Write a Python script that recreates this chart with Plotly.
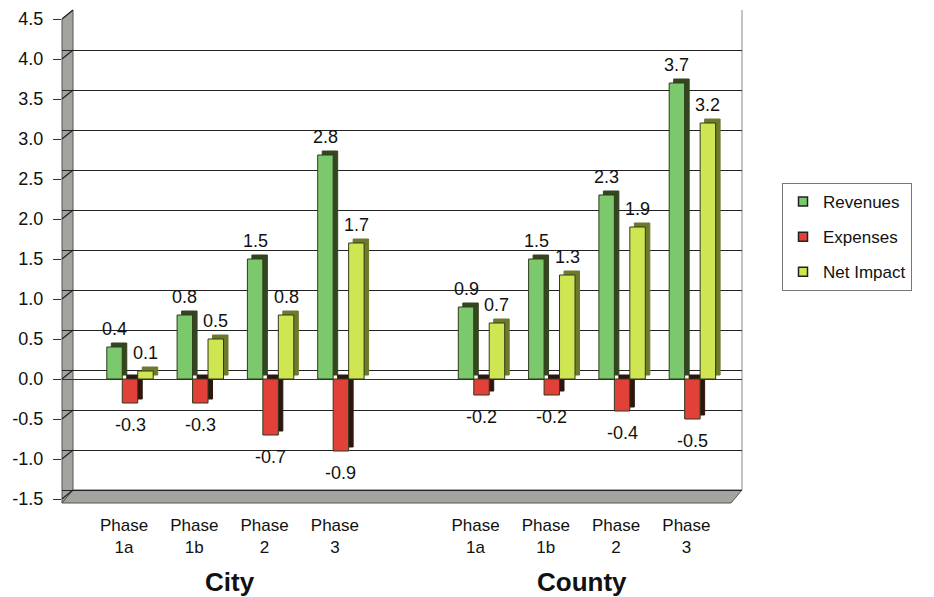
import plotly.graph_objects as go

# ---- data ----
categories = [0, 1, 2, 3, 5, 6, 7, 8]
phase_labels = ["Phase<br>1a", "Phase<br>1b", "Phase<br>2", "Phase<br>3",
                "Phase<br>1a", "Phase<br>1b", "Phase<br>2", "Phase<br>3"]
group_names = ["City", "County"]
group_centers = [1.5, 6.5]
revenues = [0.4, 0.8, 1.5, 2.8, 0.9, 1.5, 2.3, 3.7]
expenses = [-0.3, -0.3, -0.7, -0.9, -0.2, -0.2, -0.4, -0.5]
net_impact = [0.1, 0.5, 0.8, 1.7, 0.7, 1.3, 1.9, 3.2]
y_ticks = [-1.5, -1.0, -0.5, 0.0, 0.5, 1.0, 1.5, 2.0, 2.5, 3.0, 3.5, 4.0, 4.5]

# ---- geometry (pixels) ----
W, H = 934, 597
L, R, T, B = 62, 742, 10, 503
PXU = 70.3          # px per category
X0 = 130            # pixel of category 0
YPU = 80            # px per y unit
Y0_FRONT = 379      # pixel of 0 on front (bars/labels)
Y0_BACK = 370       # pixel of 0 on back wall (grid)
DEPTH_X = 11

xr = [-(X0 - L) / PXU, 8 + (R - (X0 + 8 * PXU)) / PXU]
y1r = [-(B - Y0_FRONT) / YPU, (Y0_FRONT - T) / YPU]
y2r = [-(B - Y0_BACK) / YPU, (Y0_BACK - T) / YPU + 0.0005]

def px(xp):
    return (xp - L) / (R - L)

def py(yp):
    return (B - yp) / (B - T)

FONT = "Liberation Sans, Arial, sans-serif"

series = [
    ("Revenues", revenues, "#7cc86c", "#33461f", -0.33),
    ("Expenses", expenses, "#e2413a", "#2e1610", -0.11),
    ("Net Impact", net_impact, "#cfe652", "#6d7a2c", 0.11),
]
BW = 0.22
sdx = 4.5 / PXU
sdy = 4 / YPU

fig = go.Figure()
# depth "shadow" bars
for name, vals, col, dark, off in series:
    fig.add_trace(go.Bar(
        x=categories, y=vals, base=[sdy] * len(vals), offset=off + sdx, width=BW,
        marker=dict(color=dark, line=dict(color=dark, width=1)),
        showlegend=False, hoverinfo="skip", yaxis="y"))
# front bars
for name, vals, col, dark, off in series:
    fig.add_trace(go.Bar(
        x=categories, y=vals, offset=off, width=BW, name=name,
        showlegend=False,
        marker=dict(color=col, line=dict(color="#2f3a1c", width=1)),
        yaxis="y"))
# legend entries (small square keys)
for name, vals, col, dark, off in series:
    fig.add_trace(go.Scatter(
        x=[None], y=[None], mode="markers", name=name, legendgroup=name,
        marker=dict(symbol="square", size=9, color=col, line=dict(color="#222", width=1.5)),
        yaxis="y"))

# grid-only overlay axis (back wall)
fig.add_trace(go.Scatter(x=[None], y=[None], yaxis="y2", showlegend=False, hoverinfo="skip"))

# data labels
annotations = []
for name, vals, col, dark, off in series:
    for c, v in zip(categories, vals):
        annotations.append(dict(
            x=c + off + BW / 2, y=v, xref="x", yref="y",
            text=f"{v:.1f}", showarrow=False,
            yanchor="bottom" if v >= 0 else "top",
            yshift=6 if v >= 0 else -10,
            font=dict(family=FONT, size=18, color="#111")))
for g, gc in zip(group_names, group_centers):
    annotations.append(dict(
        x=gc, y=py(582), xref="x", yref="paper", text=f"<b>{g}</b>",
        showarrow=False, xshift=-5, yanchor="middle",
        font=dict(family=FONT, size=26, color="#111")))

# 3D wall & floor shapes
shapes = []
wall_gray = "#a3a4a0"
shapes.append(dict(
    type="path", xref="paper", yref="paper", layer="between",
    path=f"M {px(L)} {py(Y0_FRONT - 4.5*YPU)} L {px(L+DEPTH_X)} {py(T)} "
         f"L {px(L+DEPTH_X)} {py(Y0_BACK + 1.5*YPU)} L {px(L)} {py(B)} Z",
    fillcolor=wall_gray, line=dict(color="#555", width=1)))
shapes.append(dict(
    type="path", xref="paper", yref="paper", layer="between",
    path=f"M {px(L)} {py(B)} L {px(L+DEPTH_X)} {py(Y0_BACK + 1.5*YPU)} "
         f"L {px(R)} {py(Y0_BACK + 1.5*YPU)} L {px(R-DEPTH_X)} {py(B)} Z",
    fillcolor=wall_gray, line=dict(color="#555", width=1)))
for v in y_ticks:
    shapes.append(dict(
        type="line", xref="paper", yref="paper", layer="between",
        x0=px(L), y0=py(Y0_FRONT - v * YPU), x1=px(L + DEPTH_X), y1=py(Y0_BACK - v * YPU),
        line=dict(color="#222", width=1.2)))
shapes.append(dict(type="line", xref="paper", yref="paper", layer="between",
                   x0=px(R), x1=px(R), y0=py(T), y1=py(Y0_BACK + 1.5*YPU),
                   line=dict(color="#888", width=1)))

fig.update_layout(
    width=W, height=H,
    margin=dict(l=L, r=W - R, t=T, b=H - B),
    paper_bgcolor="white", plot_bgcolor="white",
    barmode="overlay",
    font=dict(family=FONT, size=17, color="#111"),
    xaxis=dict(range=xr, tickmode="array", tickvals=categories, ticktext=phase_labels,
               showgrid=False, zeroline=False, showline=False, ticks="",
               ticklabelshift=-6, ticklabelstandoff=10,
               tickfont=dict(family=FONT, size=17, color="#111"), fixedrange=True),
    yaxis=dict(range=y1r, tickmode="array", tickvals=y_ticks,
               ticktext=[f"{v:.1f}" for v in y_ticks],
               showgrid=False, zeroline=True, zerolinecolor="#333", zerolinewidth=1,
               ticks="outside", ticklen=8, tickcolor="#333", showline=False,
               ticklabelstandoff=6,
               tickfont=dict(family=FONT, size=18, color="#111")),
    yaxis2=dict(range=y2r, overlaying="y", tickmode="array", tickvals=y_ticks,
                showticklabels=False, showgrid=True, gridcolor="#222", gridwidth=1.2,
                zeroline=False, showline=False),
    legend=dict(x=px(782), y=py(237), xanchor="left", yanchor="middle",
                bordercolor="#777", borderwidth=1, bgcolor="white",
                font=dict(family=FONT, size=17, color="#111"),
                tracegroupgap=10, itemwidth=30),
    annotations=annotations,
    shapes=shapes,
)

fig.write_html("out.html")
